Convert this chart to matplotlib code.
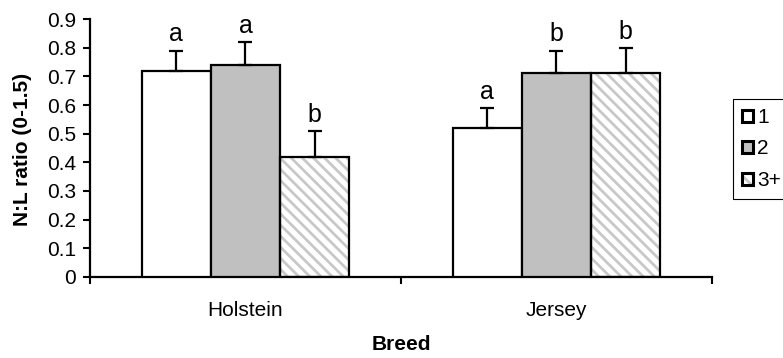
import matplotlib
matplotlib.use('Agg')
import matplotlib.pyplot as plt
import numpy as np
from matplotlib.patches import Patch
from matplotlib.legend_handler import HandlerTuple

plt.rcParams['font.family'] = ['Liberation Sans', 'DejaVu Sans']
plt.rcParams['hatch.linewidth'] = 2.0

breeds = ['Holstein', 'Jersey']
groups = ['1', '2', '3+']
means = [[0.72, 0.52], [0.74, 0.71], [0.42, 0.71]]
errors = [[0.07, 0.07], [0.08, 0.08], [0.09, 0.09]]
letters = [['a', 'a'], ['a', 'b'], ['b', 'b']]
yticks = [0, 0.1, 0.2, 0.3, 0.4, 0.5, 0.6, 0.7, 0.8, 0.9]
ytick_labels = ['0', '0.1', '0.2', '0.3', '0.4', '0.5', '0.6', '0.7', '0.8', '0.9']

fig = plt.figure(figsize=(7.83, 3.58), dpi=100)
ax = fig.add_axes([0.1149, 0.2263, 0.7944, 0.7206])

x = np.arange(len(breeds))
w = 0.222
handles = []
for i, g in enumerate(groups):
    pos = x + (i - 1) * w
    if g == '3+':
        ax.bar(pos, means[i], w, color='white', edgecolor='#c8c8c8', hatch='\\\\\\', linewidth=0, zorder=2)
        ax.bar(pos, means[i], w, color='none', edgecolor='black', linewidth=1.6, zorder=3)
        h = (Patch(facecolor='white', edgecolor='#c8c8c8', hatch='\\\\\\', linewidth=0),
             Patch(facecolor='none', edgecolor='black', linewidth=2.2))
    else:
        fc = 'white' if g == '1' else '#c0c0c0'
        ax.bar(pos, means[i], w, color=fc, edgecolor='black', linewidth=1.6, zorder=3)
        h = Patch(facecolor=fc, edgecolor='black', linewidth=2.2)
    handles.append(h)
    ax.errorbar(pos, means[i], yerr=[np.zeros(len(breeds)), errors[i]], fmt='none',
                ecolor='black', elinewidth=1.6, capsize=5, capthick=1.6, zorder=4)
    for j in range(len(breeds)):
        ax.annotate(letters[i][j], (pos[j], means[i][j] + errors[i][j]), xytext=(0, 3),
                    textcoords='offset points', ha='center', va='bottom', fontsize=18)

ax.set_xlim(-0.5, 1.5)
ax.set_ylim(0, 0.9)
ax.set_yticks(yticks)
ax.set_yticklabels(ytick_labels)
ax.set_xticks(x)
ax.set_xticklabels(breeds)
ax.set_xticks([-0.5, 0.5, 1.5], minor=True)
ax.tick_params(axis='x', which='major', length=0, pad=17, labelsize=15)
ax.tick_params(axis='x', which='minor', length=5, width=1.5, direction='out')
ax.tick_params(axis='y', length=5, width=1.5, direction='out', pad=5, labelsize=15)
for s in ['top', 'right']:
    ax.spines[s].set_visible(False)
for s in ['left', 'bottom']:
    ax.spines[s].set_linewidth(1.6)

fig.text(23 / 783, 1 - 149 / 358, 'N:L ratio (0-1.5)', rotation=90, ha='center', va='center',
         fontsize=15, fontweight='bold')
fig.text(401 / 783, 1 - 345 / 358, 'Breed', ha='center', va='center', fontsize=15, fontweight='bold')

leg = fig.legend(handles, groups, loc='center left', bbox_to_anchor=(733 / 783, 1 - 149 / 358),
                 handler_map={tuple: HandlerTuple(ndivide=1, pad=0)},
                 fontsize=15, handlelength=0.5, handleheight=0.5, handletextpad=0.2,
                 labelspacing=0.6, borderpad=0.45, borderaxespad=0, fancybox=False,
                 frameon=True, framealpha=1)
leg.get_frame().set_edgecolor('black')
leg.get_frame().set_linewidth(0.8)

fig.savefig('out.png', dpi=100)
